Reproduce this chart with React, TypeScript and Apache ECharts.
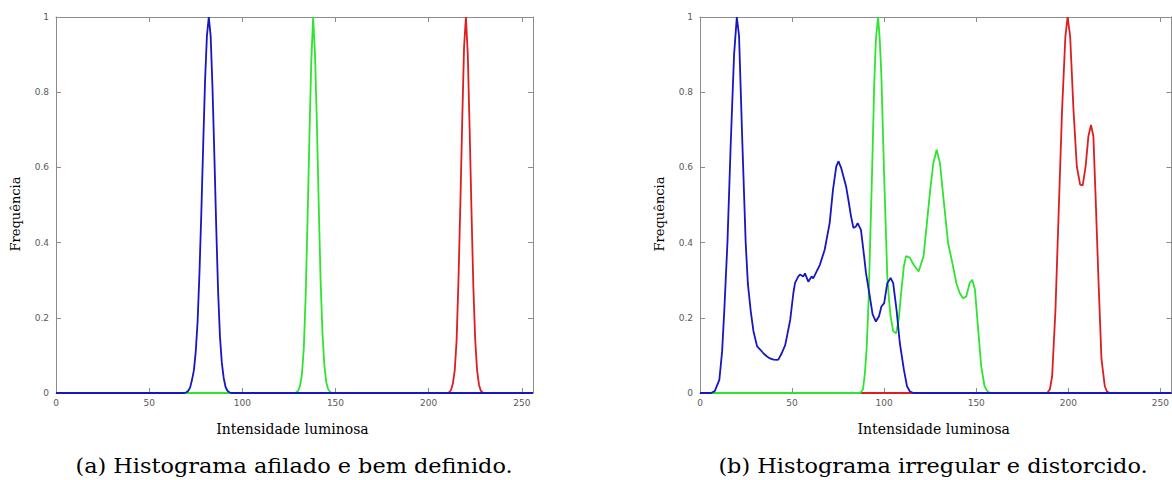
import React, { useEffect, useRef } from "react";
import * as echarts from "echarts";

// Intensity axis ticks and frequency axis ticks
const xTicks = [0, 50, 100, 150, 200, 250];
const xMax = 256;
const yTicks = [0, 0.2, 0.4, 0.6, 0.8, 1];

const axisTitleX = "Intensidade luminosa";
const axisTitleY = "Frequência";
const captionA = "(a) Histograma afilado e bem definido.";
const captionB = "(b) Histograma irregular e distorcido.";

// (a) sharp, well-defined histogram — [intensity, normalized frequency]
const blueA: [number, number][] = [
  [0, 0], [69, 0], [70, 0.002], [71, 0.006], [72, 0.015], [73, 0.035], [74, 0.06],
  [75, 0.11], [76, 0.19], [77, 0.32], [78, 0.48], [79, 0.66], [80, 0.83], [81, 0.95],
  [82, 1.0], [83, 0.95], [84, 0.81], [85, 0.63], [86, 0.44], [87, 0.27], [88, 0.15],
  [89, 0.08], [90, 0.04], [91, 0.016], [92, 0.006], [93, 0.002], [94, 0], [256, 0],
];
const greenA: [number, number][] = [
  [0, 0], [128, 0], [129, 0.002], [130, 0.006], [131, 0.02], [132, 0.05], [133, 0.12],
  [134, 0.26], [135, 0.46], [136, 0.68], [137, 0.88], [138, 1.0], [139, 0.9], [140, 0.72],
  [141, 0.5], [142, 0.3], [143, 0.16], [144, 0.075], [145, 0.03], [146, 0.011],
  [147, 0.003], [148, 0], [256, 0],
];
const redA: [number, number][] = [
  [0, 0], [210, 0], [211, 0.002], [212, 0.008], [213, 0.025], [214, 0.06], [215, 0.14],
  [216, 0.3], [217, 0.5], [218, 0.72], [219, 0.92], [220, 1.0], [221, 0.9], [222, 0.7],
  [223, 0.48], [224, 0.28], [225, 0.14], [226, 0.06], [227, 0.022], [228, 0.006],
  [229, 0.001], [230, 0], [256, 0],
];

// (b) irregular, distorted histogram
const blueB: [number, number][] = [
  [0, 0], [6, 0], [8, 0.005], [10.5, 0.035], [12, 0.11], [13.2, 0.22], [14.9, 0.4],
  [16.7, 0.665], [18.5, 0.9], [20, 1.0], [21.2, 0.95], [23, 0.665], [24.8, 0.4],
  [26, 0.29], [27.5, 0.22], [29, 0.165], [31, 0.124], [32.8, 0.115], [34.5, 0.105],
  [36.4, 0.097], [38, 0.092], [40, 0.089], [42, 0.088], [42.7, 0.09], [44.5, 0.107],
  [46.3, 0.128], [48, 0.17], [49, 0.195], [50.7, 0.266], [51.6, 0.293], [53.4, 0.31],
  [54.3, 0.315], [56.1, 0.31], [57, 0.318], [58.8, 0.296], [60.6, 0.31], [61.5, 0.305],
  [63, 0.32], [65.1, 0.341], [67.7, 0.381], [70.4, 0.452], [72.2, 0.54], [74, 0.603],
  [75.2, 0.616], [76.7, 0.598], [79.3, 0.55], [80.7, 0.51], [82, 0.47], [83.3, 0.439],
  [84.7, 0.443], [85.6, 0.452], [87.4, 0.434], [89.2, 0.36], [90.1, 0.32], [91.9, 0.266],
  [93.7, 0.21], [95.5, 0.19], [97.2, 0.204], [98.5, 0.23], [100, 0.239], [101.7, 0.292],
  [103.5, 0.306], [104.9, 0.292], [106.7, 0.222], [108.5, 0.133], [110.7, 0.062],
  [112.4, 0.018], [114, 0.004], [116, 0], [256, 0],
];
const greenB: [number, number][] = [
  [0, 0], [87, 0], [88.5, 0.01], [89.5, 0.05], [90.5, 0.12], [91.5, 0.24], [92.5, 0.42],
  [93.5, 0.6], [94.6, 0.82], [95.5, 0.94], [96.7, 1.0], [97.6, 0.94], [98.5, 0.842],
  [99.3, 0.7], [100, 0.576], [101, 0.42], [101.7, 0.31], [102.6, 0.25], [103.5, 0.204],
  [104.9, 0.164], [106.5, 0.159], [107.9, 0.195], [109.2, 0.266], [110.7, 0.337],
  [111.9, 0.364], [113.9, 0.36], [116, 0.341], [118.7, 0.323], [121.4, 0.364],
  [123.2, 0.452], [125, 0.54], [126.7, 0.611], [128.5, 0.647], [130.3, 0.611],
  [132.1, 0.523], [134.7, 0.399], [137.4, 0.337], [139.2, 0.292], [141, 0.266],
  [142.8, 0.252], [144.6, 0.257], [146.4, 0.292], [147.8, 0.301], [149.3, 0.275],
  [150.9, 0.177], [152.7, 0.071], [154.5, 0.018], [156.3, 0.003], [158, 0], [256, 0],
];
const redB: [number, number][] = [
  [0, 0], [188.5, 0], [190, 0.01], [191.2, 0.044], [193, 0.22], [194.8, 0.487],
  [196.6, 0.753], [198.4, 0.948], [199.6, 1.0], [201, 0.948], [202.8, 0.753],
  [204.6, 0.603], [206.4, 0.554], [207.8, 0.552], [209.4, 0.603], [210.9, 0.683],
  [212.3, 0.713], [213.6, 0.683], [214.8, 0.523], [216.3, 0.31], [218, 0.09],
  [219.8, 0.018], [221, 0.004], [222.5, 0], [256, 0],
];

const BLUE = "#1616c2";
const GREEN = "#2ee42e";
const RED = "#dc1e1e";
const FRAME = "#8c8c8c";

const frameLine = { show: true, onZero: false, lineStyle: { color: FRAME, width: 1 } };
const innerTick = { show: true, inside: true, length: 5, lineStyle: { color: FRAME } };
const tickLabel = {
  color: "#5a5a5a",
  fontFamily: "DejaVu Sans",
  fontSize: 9,
};

function xAxes(gridIndex: number) {
  const base = {
    type: "value" as const,
    gridIndex,
    min: 0,
    max: xMax,
    interval: xTicks[1] - xTicks[0],
    splitLine: { show: false },
    axisLine: frameLine,
    axisTick: innerTick,
  };
  return [
    {
      ...base,
      position: "bottom" as const,
      axisLabel: { ...tickLabel, margin: 5, showMaxLabel: false },
      name: axisTitleX,
      nameLocation: "middle" as const,
      nameGap: 29,
      nameTextStyle: {
        fontFamily: "DejaVu Serif",
        fontSize: 14,
        color: "#000",
        padding: [0, 4, 0, 0],
      },
    },
    { ...base, position: "top" as const, axisLabel: { show: false } },
  ];
}

function yAxes(gridIndex: number) {
  const base = {
    type: "value" as const,
    gridIndex,
    min: yTicks[0],
    max: yTicks[yTicks.length - 1],
    interval: yTicks[1] - yTicks[0],
    splitLine: { show: false },
    axisLine: frameLine,
    axisTick: innerTick,
  };
  return [
    {
      ...base,
      position: "left" as const,
      axisLabel: { ...tickLabel, margin: 7 },
      name: axisTitleY,
      nameLocation: "middle" as const,
      nameGap: 34,
      nameTextStyle: {
        fontFamily: "DejaVu Serif",
        fontSize: 13,
        color: "#000",
        padding: [0, 18, 0, 0],
      },
    },
    { ...base, position: "right" as const, axisLabel: { show: false } },
  ];
}

function curve(data: [number, number][], color: string, axisIndex: number) {
  return {
    type: "line" as const,
    xAxisIndex: axisIndex,
    yAxisIndex: axisIndex,
    data,
    symbol: "none",
    showSymbol: false,
    smooth: false,
    lineStyle: { color, width: 1.8 },
    itemStyle: { color },
    silent: true,
    z: 3,
  };
}

function caption(text: string, x: number) {
  return {
    type: "text" as const,
    x,
    y: 466,
    scaleX: 1.12,
    style: {
      text,
      fontFamily: "DejaVu Serif",
      fontSize: 20,
      fill: "#000",
      align: "center",
      verticalAlign: "middle",
    },
  };
}

export default function App() {
  const ref = useRef<HTMLDivElement>(null);

  useEffect(() => {
    if (!ref.current) return;
    const chart = echarts.init(ref.current, undefined, { renderer: "svg" });
    chart.setOption({
      animation: false,
      backgroundColor: "#ffffff",
      grid: [
        { left: 56, top: 17, width: 477, height: 376 },
        { left: 700, top: 17, width: 477, height: 376 },
      ],
      xAxis: [...xAxes(0), ...xAxes(1)],
      yAxis: [...yAxes(0), ...yAxes(1)],
      series: [
        curve(redA, RED, 0),
        curve(greenA, GREEN, 0),
        curve(blueA, BLUE, 0),
        curve(redB, RED, 2),
        curve(greenB, GREEN, 2),
        curve(blueB, BLUE, 2),
      ],
      graphic: [caption(captionA, 294), caption(captionB, 933)],
    });
    return () => chart.dispose();
  }, []);

  return (
    <div
      ref={ref}
      style={{ position: "fixed", left: 0, top: 0, width: 1172, height: 480, background: "#fff" }}
    />
  );
}
